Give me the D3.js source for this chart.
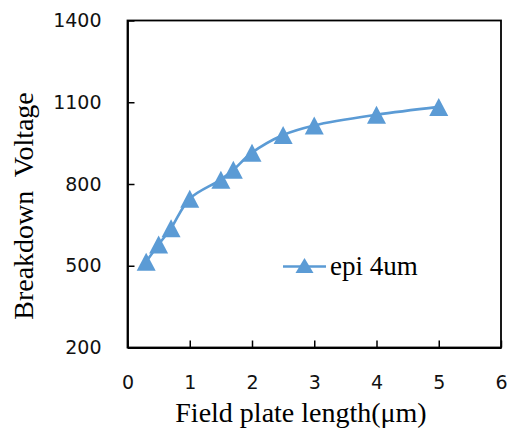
<!DOCTYPE html>
<html>
<head>
<meta charset="utf-8">
<script src="https://cdn.jsdelivr.net/npm/d3@7/dist/d3.min.js"></script>
<style>
  html, body { margin: 0; padding: 0; background: #fff; }
  svg { display: block; }
</style>
</head>
<body>
<div id="chart"></div>
<script>
// Breakdown voltage versus field plate length (epi 4um)
const fieldPlateLength = [0.3, 0.5, 0.7, 1, 1.5, 1.7, 2, 2.5, 3, 4, 5];
const breakdownVoltage = [515, 578, 638, 746, 816, 852, 915, 980, 1015, 1054, 1083];
const xTicks = [0, 1, 2, 3, 4, 5, 6];
const yTicks = [200, 500, 800, 1100, 1400];
const seriesName = "epi 4um";
const xTitle = "Field plate length(\u03bcm)";
const yTitle = "Breakdown  Voltage";

const W = 507, H = 428;
const blue = "#5B9BD5";
const serif = "'Liberation Serif', 'Times New Roman', serif";
const sans = "'DejaVu Sans', sans-serif";

const svg = d3.select("#chart").append("svg")
  .attr("width", W).attr("height", H);
svg.append("rect").attr("width", W).attr("height", H).attr("fill", "#fff");

const x = d3.scaleLinear().domain([0, 6]).range([127.5, 501]);
const y = d3.scaleLinear().domain([200, 1400]).range([347.5, 20.5]);

// Plot frame
svg.append("rect")
  .attr("x", x(0)).attr("y", y(1400))
  .attr("width", x(6) - x(0)).attr("height", y(200) - y(1400))
  .attr("fill", "none").attr("stroke", "#000").attr("stroke-width", 1.8);

// Axes with inward ticks
const xAxis = svg.append("g")
  .attr("transform", `translate(0,${y(200)})`)
  .call(d3.axisBottom(x).tickValues(xTicks).tickSizeInner(-7).tickSizeOuter(0).tickPadding(28).tickFormat(d3.format("d")));
const yAxis = svg.append("g")
  .attr("transform", `translate(${x(0)},0)`)
  .call(d3.axisLeft(y).tickValues(yTicks).tickSizeInner(-7).tickSizeOuter(0).tickPadding(26).tickFormat(d3.format("d")));

[xAxis, yAxis].forEach(g => {
  g.select(".domain").attr("stroke", "#000").attr("stroke-width", 1.8);
  g.selectAll(".tick line").attr("stroke", "#000").attr("stroke-width", 1.5);
  g.selectAll(".tick text")
    .attr("fill", "#111")
    .style("font-family", sans)
    .style("font-size", "19px");
});

// Axis titles
svg.append("text")
  .attr("x", 301).attr("y", 421.5)
  .attr("text-anchor", "middle")
  .style("font-family", serif).style("font-size", "28px")
  .attr("fill", "#000")
  .text(xTitle);

svg.append("text")
  .attr("transform", "translate(33,206) rotate(-90)")
  .attr("text-anchor", "middle")
  .style("font-family", serif).style("font-size", "28px")
  .style("white-space", "pre")
  .attr("fill", "#000")
  .text(yTitle);

// Smoothed series line
const pts = fieldPlateLength.map((d, i) => [d, breakdownVoltage[i]]);
const line = d3.line()
  .x(d => x(d[0])).y(d => y(d[1]))
  .curve(d3.curveCatmullRom.alpha(0.5));

svg.append("path")
  .datum(pts)
  .attr("d", line)
  .attr("fill", "none")
  .attr("stroke", blue)
  .attr("stroke-width", 2.6);

// Triangle markers
const tri = (hw, hh) => `M0,${-hh}L${hw},${hh}L${-hw},${hh}Z`;
svg.append("g").selectAll("path")
  .data(pts)
  .join("path")
  .attr("transform", d => `translate(${x(d[0])},${y(d[1])})`)
  .attr("d", tri(9.5, 9))
  .attr("fill", blue);

// Legend
const lg = svg.append("g");
lg.append("line")
  .attr("x1", 283).attr("x2", 326)
  .attr("y1", 266.5).attr("y2", 266.5)
  .attr("stroke", blue).attr("stroke-width", 2.6);
lg.append("path")
  .attr("transform", "translate(304.5,265.5)")
  .attr("d", tri(9, 7.5))
  .attr("fill", blue);
lg.append("text")
  .attr("x", 330).attr("y", 275)
  .style("font-family", serif).style("font-size", "27px")
  .attr("fill", "#000")
  .text(seriesName);
</script>
</body>
</html>
